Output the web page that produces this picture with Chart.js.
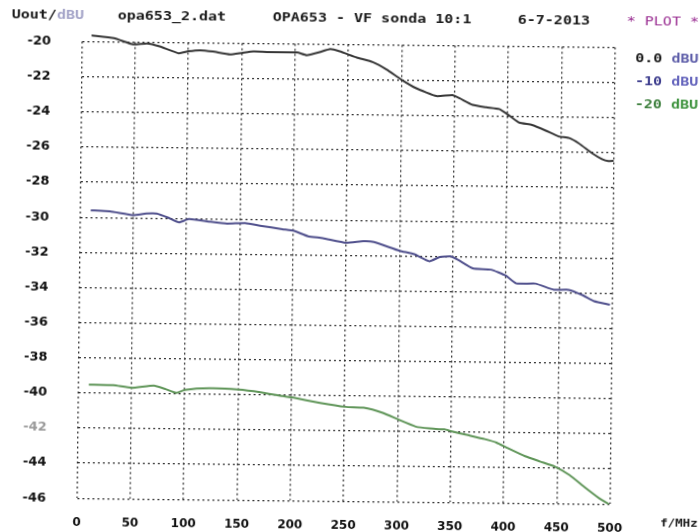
<!DOCTYPE html>
<html>
<head>
<meta charset="utf-8">
<script src="https://cdn.jsdelivr.net/npm/chart.js@4"></script>
<style>
  body { margin: 0; background: #fff; overflow: hidden; }
  /* the scanned plot is a little turned, so the whole sheet is turned too */
  #wrap { position: relative; width: 700px; height: 540px; transform: rotate(0.63deg); transform-origin: 350px 266px; }
  .t { position: absolute; font: bold 12px "DejaVu Sans Mono", monospace; color: #1a1a1a; white-space: pre;
       transform: scaleX(1.25); transform-origin: 0 50%; line-height: 14px; }
</style>
</head>
<body>
<div id="wrap">
  <canvas id="plot" width="700" height="540"></canvas>
  <span class="t" style="left:9px;top:11px">Uout/<span style="color:#a4a4c8">dBU</span></span>
  <span class="t" style="left:115px;top:11px">opa653_2.dat</span>
  <span class="t" style="left:270px;top:11px">OPA653 - VF sonda 10:1</span>
  <span class="t" style="left:515px;top:11px">6-7-2013</span>
  <span class="t" style="left:624px;top:11px;color:#9a2e92;font-weight:normal">* PLOT *</span>
  <span class="t" style="left:633px;top:48px">0.0 <span style="color:#5c5ca8">dBU</span></span>
  <span class="t" style="left:633px;top:71px;color:#3e3e8e">-10 <span style="color:#6464bc">dBU</span></span>
  <span class="t" style="left:633px;top:94px;color:#3d7f3d">-20 <span style="color:#3e933e">dBU</span></span>
  <span class="t" style="left:663px;top:513px;font-size:10px">f/MHz</span>
</div>
<script>
// curve for 0.0 dBU input
const freq0 = [9, 30, 48, 61, 73, 91, 100, 111, 123, 139, 150, 161, 180, 202, 211, 223, 233, 242, 258, 273, 286, 300, 314, 333, 348, 355, 367, 380, 392, 402, 411, 423, 436, 448, 458, 467, 480, 489, 495, 500];
const level0 = [-19.64, -19.79, -20.13, -20.07, -20.23, -20.61, -20.49, -20.42, -20.49, -20.64, -20.55, -20.46, -20.49, -20.49, -20.64, -20.46, -20.27, -20.4, -20.74, -20.99, -21.4, -21.97, -22.45, -22.88, -22.82, -23.0, -23.36, -23.49, -23.58, -23.96, -24.34, -24.47, -24.78, -25.1, -25.19, -25.48, -26.05, -26.37, -26.48, -26.45];

// curve for -10 dBU input
const freq10 = [10, 28, 50, 62, 72, 83, 93, 102, 121, 138, 155, 169, 190, 201, 214, 228, 250, 266, 276, 300, 314, 328, 338, 348, 355, 369, 386, 400, 410, 428, 445, 459, 472, 483, 498];
const level10 = [-29.6, -29.65, -29.85, -29.75, -29.75, -29.98, -30.23, -30.04, -30.17, -30.27, -30.23, -30.37, -30.56, -30.65, -30.94, -31.04, -31.29, -31.19, -31.23, -31.71, -31.9, -32.29, -32.04, -32.0, -32.19, -32.67, -32.73, -33.06, -33.5, -33.5, -33.83, -33.83, -34.12, -34.46, -34.65];

// curve for -20 dBU input
const freq20 = [10, 33, 50, 71, 81, 92, 100, 123, 150, 171, 192, 201, 227, 251, 268, 286, 301, 317, 330, 344, 351, 365, 382, 393, 403, 420, 434, 448, 462, 476, 490, 499];
const level20 = [-39.52, -39.54, -39.68, -39.54, -39.71, -39.94, -39.77, -39.66, -39.71, -39.85, -40.06, -40.13, -40.42, -40.63, -40.67, -40.95, -41.33, -41.71, -41.81, -41.85, -41.96, -42.15, -42.38, -42.57, -42.86, -43.33, -43.62, -43.9, -44.38, -45.05, -45.68, -46.0];

const seriesNames = ["0.0 dBU", "-10 dBU", "-20 dBU"];
const seriesColors = ["#363636", "#4f4f8c", "#5f9558"];

function pts(xs, ys) {
  return xs.map((x, i) => ({ x: x, y: ys[i] }));
}

// v4 puts the dash on the grid lines; the frame is made by the grid lines at min/max
const gridStyle = { color: "#333", lineWidth: 1.3, drawTicks: false };
const frameStyle = { display: false, dash: [2, 3] };
const xFont = { family: "DejaVu Sans", weight: "bold", size: 12 };
const yFont = { family: "DejaVu Sans", weight: "bold", size: 13 };

const ctx = document.getElementById("plot").getContext("2d");
new Chart(ctx, {
  type: "line",
  data: {
    datasets: [
      { label: seriesNames[0], data: pts(freq0, level0), borderColor: seriesColors[0] },
      { label: seriesNames[1], data: pts(freq10, level10), borderColor: seriesColors[1] },
      { label: seriesNames[2], data: pts(freq20, level20), borderColor: seriesColors[2] },
    ],
  },
  options: {
    responsive: false,
    animation: false,
    clip: false,
    layout: { padding: { top: 44.5, right: 87.5, left: 0, bottom: 0 } },
    elements: {
      point: { radius: 0 },
      line: { borderWidth: 2, tension: 0.15 },
    },
    plugins: { legend: { display: false }, tooltip: { enabled: false } },
    scales: {
      x: {
        type: "linear",
        min: 0,
        max: 500,
        ticks: { stepSize: 50, color: "#111", font: xFont, padding: 17, maxRotation: 0 },
        grid: gridStyle,
        border: frameStyle,
        // canvas is a bit taller than the window so the turned labels are not cut
        afterFit: (s) => { s.height = 38.5; },
      },
      y: {
        min: -46,
        max: -20,
        ticks: {
          stepSize: 2,
          font: yFont,
          padding: 31,
          color: (c) => (c.tick && c.tick.value === -42 ? "#9a9a9a" : "#111"),
        },
        grid: gridStyle,
        border: frameStyle,
        afterFit: (s) => { s.width = 79.5; },
      },
    },
  },
});
</script>
</body>
</html>
